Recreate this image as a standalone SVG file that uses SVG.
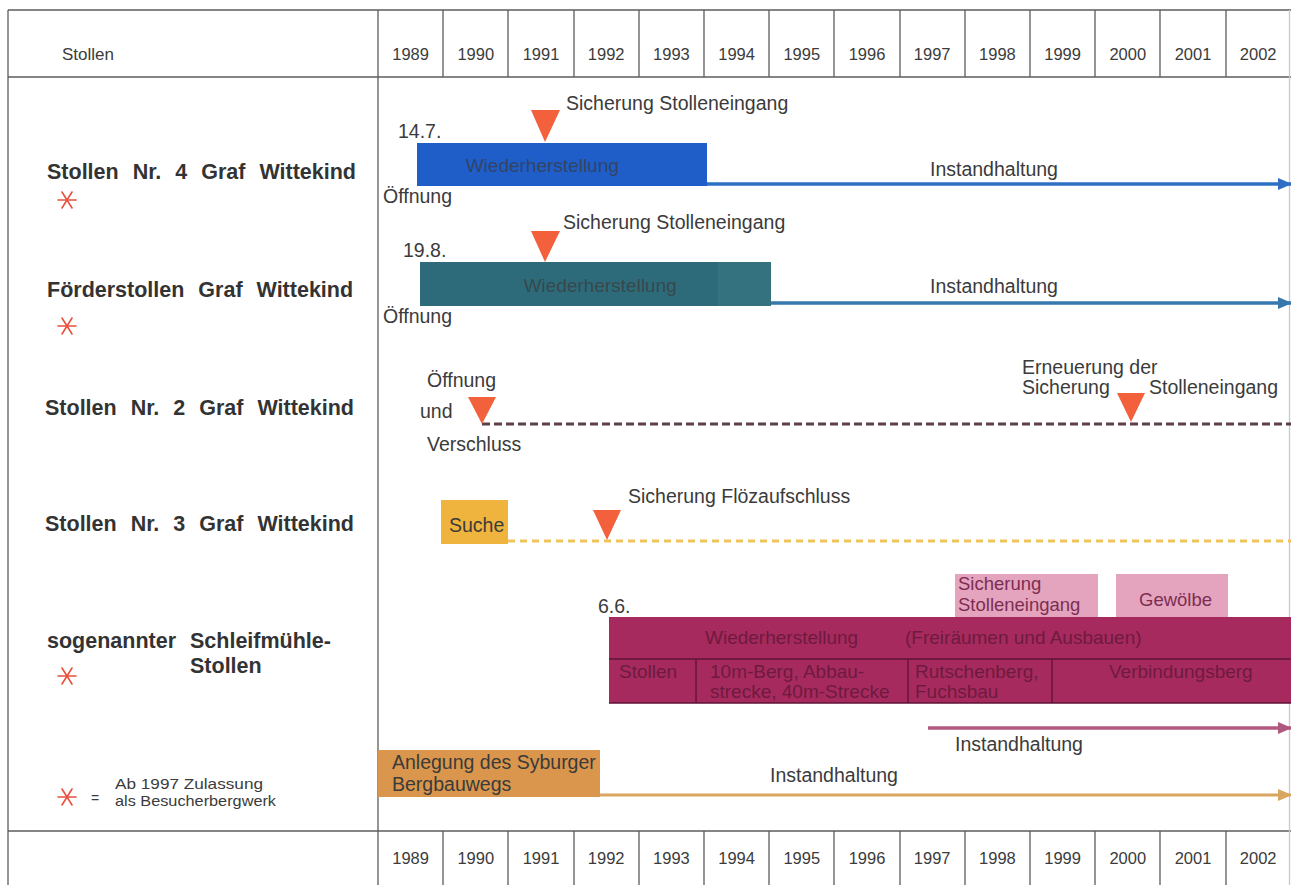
<svg xmlns="http://www.w3.org/2000/svg" width="1291" height="885" viewBox="0 0 1291 885">
  <defs>
    <style>
      text { font-family: "Liberation Sans", Arial, sans-serif; fill: #3b3b3b; }
      .yr { font-size: 16.5px; text-anchor: middle; }
      .head { font-size: 17px; }
      .lbl { font-size: 21.5px; font-weight: bold; fill: #333333; word-spacing: 8px; }
      .ann { font-size: 19.5px; }
      .small { font-size: 15px; }
      .grid { stroke: #5c5c5c; stroke-width: 1.3; fill: none; }
      .tri { fill: #f2603c; }
      .star { stroke: #e8503c; stroke-width: 1.6; stroke-linecap: round; fill: none; }
      .bartxt { font-size: 19px; fill: #6e1a3e; }
      .pinktxt { font-size: 18.5px; fill: #7d2d52; }
      .faint { font-size: 19px; text-anchor: middle; }
    </style>
    <filter id="soft" x="-5%" y="-30%" width="110%" height="160%">
      <feGaussianBlur stdDeviation="0.7"/>
    </filter>
    <marker id="ah-blue" viewBox="0 0 14 12" refX="13" refY="6" markerWidth="14" markerHeight="12" markerUnits="userSpaceOnUse" orient="auto">
      <path d="M0,0 L14,6 L0,12 Z" fill="#2d6fc4"/>
    </marker>
    <marker id="ah-teal" viewBox="0 0 14 12" refX="13" refY="6" markerWidth="14" markerHeight="12" markerUnits="userSpaceOnUse" orient="auto">
      <path d="M0,0 L14,6 L0,12 Z" fill="#3677ae"/>
    </marker>
    <marker id="ah-mauve" viewBox="0 0 14 12" refX="13" refY="6" markerWidth="14" markerHeight="12" markerUnits="userSpaceOnUse" orient="auto">
      <path d="M0,0 L14,6 L0,12 Z" fill="#b0587f"/>
    </marker>
    <marker id="ah-sand" viewBox="0 0 14 12" refX="13" refY="6" markerWidth="14" markerHeight="12" markerUnits="userSpaceOnUse" orient="auto">
      <path d="M0,0 L14,6 L0,12 Z" fill="#d9a660"/>
    </marker>
    <!-- visitor-mine asterisk -->
    <g id="star">
      <line class="star" x1="-9" y1="0" x2="9" y2="0"/>
      <line class="star" x1="-5" y1="-8" x2="5" y2="8"/>
      <line class="star" x1="5" y1="-8" x2="-5" y2="8"/>
    </g>
  </defs>

  <rect x="0" y="0" width="1291" height="885" fill="#ffffff"/>

  <!-- table frame -->
  <g id="grid" class="grid">
    <line x1="8" y1="10" x2="1291" y2="10"/>
    <line x1="8" y1="10" x2="8" y2="885"/>
    <line x1="8" y1="77" x2="1291" y2="77"/>
    <line x1="378" y1="10" x2="378" y2="885"/>
    <line x1="8" y1="831" x2="1291" y2="831"/>
    <line x1="1289.5" y1="10" x2="1289.5" y2="885" stroke="#c8c8c8"/>
    <!-- year columns, header -->
    <path d="M443,10V77 M508,10V77 M574,10V77 M639,10V77 M704,10V77 M769,10V77 M834,10V77 M900,10V77 M965,10V77 M1030,10V77 M1095,10V77 M1160,10V77 M1226,10V77"/>
    <!-- year columns, footer -->
    <path d="M443,831V885 M508,831V885 M574,831V885 M639,831V885 M704,831V885 M769,831V885 M834,831V885 M900,831V885 M965,831V885 M1030,831V885 M1095,831V885 M1160,831V885 M1226,831V885"/>
  </g>

  <g id="header">
    <text class="head" x="62" y="60">Stollen</text>
    <text class="yr" x="410.6" y="60">1989</text>
    <text class="yr" x="475.8" y="60">1990</text>
    <text class="yr" x="541" y="60">1991</text>
    <text class="yr" x="606.2" y="60">1992</text>
    <text class="yr" x="671.4" y="60">1993</text>
    <text class="yr" x="736.6" y="60">1994</text>
    <text class="yr" x="801.8" y="60">1995</text>
    <text class="yr" x="867" y="60">1996</text>
    <text class="yr" x="932.2" y="60">1997</text>
    <text class="yr" x="997.4" y="60">1998</text>
    <text class="yr" x="1062.6" y="60">1999</text>
    <text class="yr" x="1127.8" y="60">2000</text>
    <text class="yr" x="1193" y="60">2001</text>
    <text class="yr" x="1258.2" y="60">2002</text>
  </g>

  <g id="footer">
    <text class="yr" x="410.6" y="864">1989</text>
    <text class="yr" x="475.8" y="864">1990</text>
    <text class="yr" x="541" y="864">1991</text>
    <text class="yr" x="606.2" y="864">1992</text>
    <text class="yr" x="671.4" y="864">1993</text>
    <text class="yr" x="736.6" y="864">1994</text>
    <text class="yr" x="801.8" y="864">1995</text>
    <text class="yr" x="867" y="864">1996</text>
    <text class="yr" x="932.2" y="864">1997</text>
    <text class="yr" x="997.4" y="864">1998</text>
    <text class="yr" x="1062.6" y="864">1999</text>
    <text class="yr" x="1127.8" y="864">2000</text>
    <text class="yr" x="1193" y="864">2001</text>
    <text class="yr" x="1258.2" y="864">2002</text>
  </g>

  <!-- row labels -->
  <g id="label-stollen4">
    <text class="lbl" x="47" y="179">Stollen Nr. 4 Graf Wittekind</text>
    <use href="#star" x="67" y="200"/>
  </g>
  <g id="label-foerderstollen">
    <text class="lbl" x="47" y="297">Förderstollen Graf Wittekind</text>
    <use href="#star" x="67" y="326"/>
  </g>
  <g id="label-stollen2">
    <text class="lbl" x="45" y="415">Stollen Nr. 2 Graf Wittekind</text>
  </g>
  <g id="label-stollen3">
    <text class="lbl" x="45" y="531">Stollen Nr. 3 Graf Wittekind</text>
  </g>
  <g id="label-schleifmuehle">
    <text class="lbl" x="47" y="648">sogenannter Schleifmühle-</text>
    <text class="lbl" x="190" y="673">Stollen</text>
    <use href="#star" x="67" y="676"/>
  </g>
  <g id="legend">
    <use href="#star" x="67" y="797"/>
    <text x="91" y="803" font-size="14px">=</text>
    <text class="small" x="115" y="789" textLength="148" lengthAdjust="spacingAndGlyphs">Ab 1997 Zulassung</text>
    <text class="small" x="115" y="806" textLength="161" lengthAdjust="spacingAndGlyphs">als Besucherbergwerk</text>
  </g>

  <!-- connectors: maintenance arrows and dashed spans -->
  <g id="connectors" fill="none">
    <line x1="706" y1="184" x2="1291" y2="184" stroke="#2d6fc4" stroke-width="3.5" marker-end="url(#ah-blue)"/>
    <line x1="770" y1="303" x2="1291" y2="303" stroke="#3677ae" stroke-width="3.5" marker-end="url(#ah-teal)"/>
    <line x1="482" y1="424" x2="1291" y2="424" stroke="#5e3f46" stroke-width="3" stroke-dasharray="8 4"/>
    <line x1="508" y1="541" x2="1291" y2="541" stroke="#efc45c" stroke-width="3" stroke-dasharray="7 5"/>
    <line x1="928" y1="728" x2="1291" y2="728" stroke="#b0587f" stroke-width="3.5" marker-end="url(#ah-mauve)"/>
    <line x1="599" y1="795" x2="1291" y2="795" stroke="#d9a660" stroke-width="3" marker-end="url(#ah-sand)"/>
  </g>

  <!-- Stollen Nr. 4 -->
  <g id="bar-stollen4">
    <rect x="417" y="143" width="290" height="43" fill="#1f5dc8"/>
    <text class="faint" x="542" y="172" fill="#3a4fa8" opacity="0.75" filter="url(#soft)">Wiederherstellung</text>
    <text class="ann" x="398" y="138">14.7.</text>
    <text class="ann" x="383" y="203">Öffnung</text>
    <polygon class="tri" points="531,110 560,110 545,142"/>
    <text class="ann" x="566" y="110">Sicherung Stolleneingang</text>
    <text class="ann" x="930" y="176">Instandhaltung</text>
  </g>

  <!-- Förderstollen -->
  <g id="bar-foerderstollen">
    <rect x="420" y="262" width="351" height="44" fill="#2d6b7a"/>
    <rect x="718" y="262" width="53" height="44" fill="#3a7683" opacity="0.6"/>
    <text class="faint" x="600" y="292" fill="#3e5fa6" opacity="0.75" filter="url(#soft)">Wiederherstellung</text>
    <text class="ann" x="403" y="257">19.8.</text>
    <text class="ann" x="383" y="323">Öffnung</text>
    <polygon class="tri" points="531,231 560,231 545,262"/>
    <text class="ann" x="563" y="229">Sicherung Stolleneingang</text>
    <text class="ann" x="930" y="293">Instandhaltung</text>
  </g>

  <!-- Stollen Nr. 2 -->
  <g id="events-stollen2">
    <text class="ann" x="427" y="387">Öffnung</text>
    <text class="ann" x="420" y="418">und</text>
    <text class="ann" x="427" y="451">Verschluss</text>
    <polygon class="tri" points="468,397 496,397 482,424"/>
    <text class="ann" x="1022" y="374">Erneuerung der</text>
    <text class="ann" x="1022" y="394">Sicherung</text>
    <text class="ann" x="1149" y="394">Stolleneingang</text>
    <polygon class="tri" points="1117,393 1145,393 1131,422"/>
  </g>

  <!-- Stollen Nr. 3 -->
  <g id="events-stollen3">
    <rect x="441" y="500" width="67" height="44" fill="#efb43e"/>
    <text class="ann" x="449" y="532" fill="#4a3a20">Suche</text>
    <polygon class="tri" points="593,510 621,510 607,540"/>
    <text class="ann" x="628" y="503">Sicherung Flözaufschluss</text>
  </g>

  <!-- Schleifmühle-Stollen -->
  <g id="bar-schleifmuehle">
    <rect x="955" y="574" width="143" height="43" fill="#e4a4be"/>
    <text class="pinktxt" x="958" y="590">Sicherung</text>
    <text class="pinktxt" x="958" y="611">Stolleneingang</text>
    <rect x="1116" y="574" width="112" height="43" fill="#e4a4be"/>
    <text class="pinktxt" x="1139" y="606">Gewölbe</text>
    <text class="ann" x="598" y="613">6.6.</text>
    <rect x="609" y="617" width="682" height="86" fill="#a62a5e"/>
    <g stroke="#5e1434" stroke-width="1.3">
      <line x1="609" y1="659" x2="1291" y2="659"/>
      <line x1="696" y1="659" x2="696" y2="703"/>
      <line x1="908" y1="659" x2="908" y2="703"/>
      <line x1="1052" y1="659" x2="1052" y2="703"/>
      <line x1="609" y1="703" x2="1291" y2="703"/>
    </g>
    <text class="bartxt" x="705" y="644">Wiederherstellung</text>
    <text class="bartxt" x="905" y="644">(Freiräumen und Ausbauen)</text>
    <text class="bartxt" x="619" y="678">Stollen</text>
    <text class="bartxt" x="710" y="678">10m-Berg, Abbau-</text>
    <text class="bartxt" x="710" y="698">strecke, 40m-Strecke</text>
    <text class="bartxt" x="915" y="678">Rutschenberg,</text>
    <text class="bartxt" x="915" y="698">Fuchsbau</text>
    <text class="bartxt" x="1109" y="678">Verbindungsberg</text>
    <text class="ann" x="955" y="751">Instandhaltung</text>
  </g>

  <!-- Syburger Bergbauweg -->
  <g id="bar-bergbauweg">
    <rect x="378" y="750" width="222" height="47" fill="#d9964c"/>
    <text class="ann" x="392" y="769" fill="#553218">Anlegung des Syburger</text>
    <text class="ann" x="392" y="791" fill="#553218">Bergbauwegs</text>
    <text class="ann" x="770" y="782">Instandhaltung</text>
  </g>
</svg>
